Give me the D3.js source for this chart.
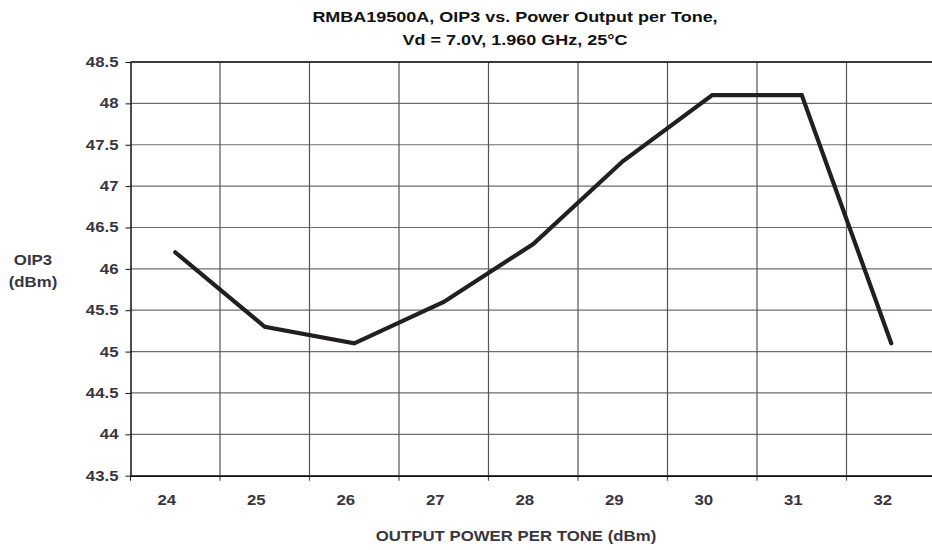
<!DOCTYPE html>
<html><head><meta charset="utf-8">
<script src="https://cdn.jsdelivr.net/npm/d3@7"></script>
<style>body{margin:0;background:#fff;} svg{display:block;font-family:"Liberation Sans",Arial,sans-serif;font-weight:bold;}</style>
</head><body><svg id="c" width="932" height="550"></svg>
<script>
const categories = [24, 25, 26, 27, 28, 29, 30, 31, 32];
const oip3 = [46.2, 45.3, 45.1, 45.6, 46.3, 47.3, 48.1, 48.1, 45.1];
const yTicks = [43.5, 44, 44.5, 45, 45.5, 46, 46.5, 47, 47.5, 48, 48.5];
const titleLines = ["RMBA19500A, OIP3 vs. Power Output per Tone,", "Vd = 7.0V, 1.960 GHz, 25\u00B0C"];

const svg = d3.select("#c");
const SX = 1.2;
const L = 130.5, T = 62, B = 475.7, R = L + 9 * 89.5;
const x = d3.scaleBand().domain(categories).range([L, R]).padding(0);
const y = d3.scaleLinear().domain([43.5, 48.5]).range([B, T]);
const txt = "#3a3640";

function label(cx, cy, s, size, fill) {
  svg.append("g").attr("transform", `translate(${cx},${cy}) scale(${SX},1)`)
    .append("text").attr("text-anchor", "middle").attr("font-size", size)
    .attr("fill", fill).text(s);
}

// horizontal grid
svg.append("g").selectAll("line").data(yTicks).join("line")
  .attr("x1", L).attr("x2", R).attr("y1", d => y(d)).attr("y2", d => y(d))
  .attr("stroke", "#6e6e6e").attr("stroke-width", 1.2);
// vertical grid at band boundaries
const bounds = categories.slice(1).map(c => x(c));
svg.append("g").selectAll("line").data(bounds).join("line")
  .attr("x1", d => d).attr("x2", d => d).attr("y1", T).attr("y2", B + 5)
  .attr("stroke", "#555").attr("stroke-width", 1.2);

// y axis
const ya = svg.append("g").attr("transform", `translate(${L},0)`)
  .call(d3.axisLeft(y).tickValues(yTicks).tickSize(5).tickSizeOuter(0).tickFormat(d => d3.format("~g")(d)));
ya.select(".domain").attr("stroke", "#111").attr("stroke-width", 1.5);
ya.selectAll(".tick line").attr("stroke", "#111");
ya.selectAll("text").attr("fill", txt).attr("font-size", 14).attr("font-weight", "bold")
  .attr("font-family", "Liberation Sans, Arial, sans-serif").attr("x", -10)
  .attr("transform", `scale(${SX},1)`);

// x axis
const xa = svg.append("g").attr("transform", `translate(0,${B})`)
  .call(d3.axisBottom(x).tickSize(0).tickSizeOuter(0));
xa.select(".domain").attr("stroke", "#111").attr("stroke-width", 1.5);
xa.selectAll("text").attr("fill", txt).attr("font-size", 14).attr("font-weight", "bold")
  .attr("font-family", "Liberation Sans, Arial, sans-serif").attr("x", -7).attr("y", 19)
  .attr("transform", `scale(${SX},1)`);
svg.append("line").attr("x1", L).attr("x2", L).attr("y1", B).attr("y2", B + 5).attr("stroke", "#111");
// top border
svg.append("line").attr("x1", L).attr("x2", R).attr("y1", T).attr("y2", T).attr("stroke", "#111").attr("stroke-width", 1.5);

// line
svg.append("path").datum(categories.map((c, i) => [c, oip3[i]]))
  .attr("fill", "none").attr("stroke", "#231f20").attr("stroke-width", 4.2)
  .attr("stroke-linejoin", "miter").attr("stroke-linecap", "round")
  .attr("d", d3.line().x(d => x(d[0]) + x.bandwidth() / 2).y(d => y(d[1])));

// titles
titleLines.forEach((t, i) => label(515, 21.5 + i * 23.5, t, 15, "#111"));
label(33, 265, "OIP3", 14, txt);
label(33, 287, "(dBm)", 14, txt);
label(516, 541, "OUTPUT POWER PER TONE (dBm)", 14, txt);
</script></body></html>
